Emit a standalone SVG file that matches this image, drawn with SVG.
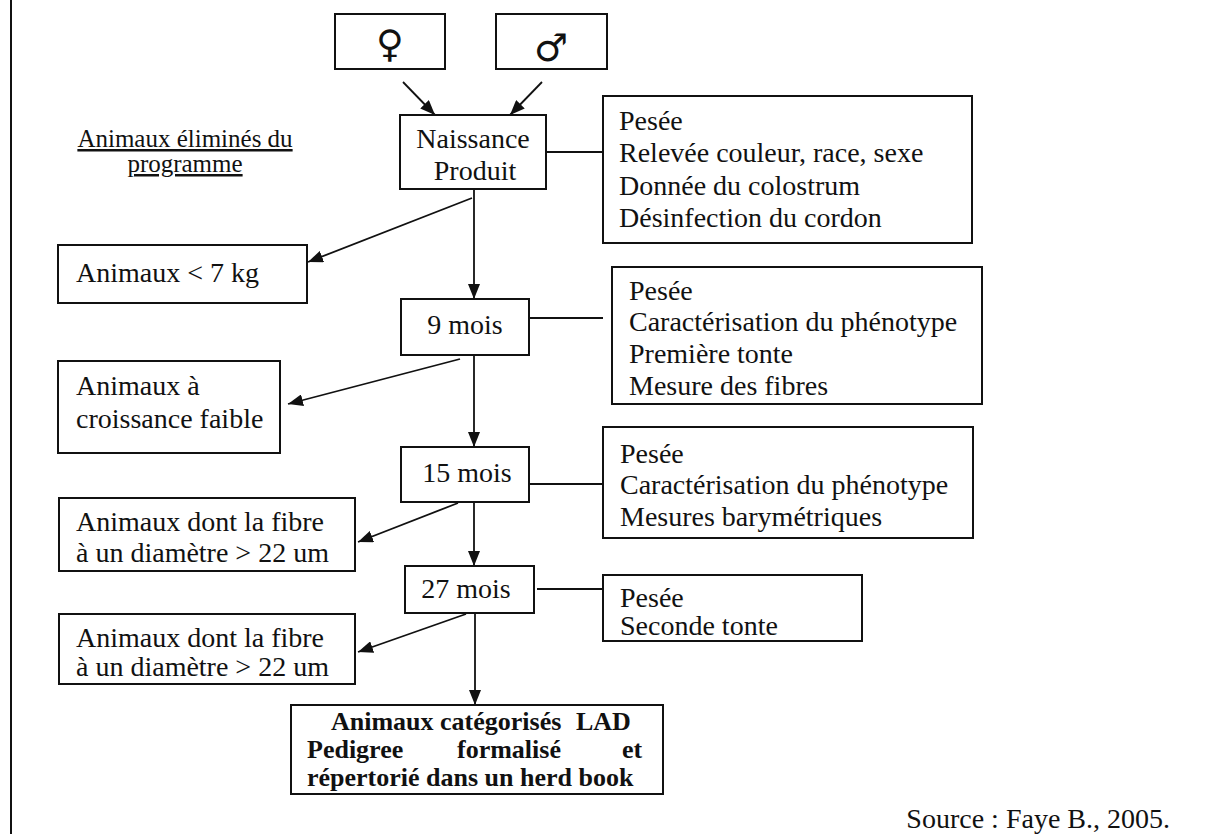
<svg xmlns="http://www.w3.org/2000/svg" width="1228" height="834" viewBox="0 0 1228 834">
<style>
.box{fill:#fff;stroke:#111;stroke-width:2}
.t{font-family:"Liberation Serif","Times New Roman",serif;font-size:28px;fill:#111}
.tc{font-family:"Liberation Serif","Times New Roman",serif;font-size:28px;fill:#111;text-anchor:middle}
.b{font-family:"Liberation Serif","Times New Roman",serif;font-size:26px;font-weight:bold;fill:#111}
.lbl{font-family:"Liberation Serif","Times New Roman",serif;font-size:25px;fill:#111;text-anchor:middle;text-decoration:underline}
.sym{font-family:"DejaVu Sans",sans-serif;font-size:38px;fill:#111;text-anchor:middle}
.c{fill:none;stroke:#111;stroke-width:1.8}
</style>
<defs>
<marker id="ah" markerWidth="16" markerHeight="12" refX="15" refY="6" orient="auto" markerUnits="userSpaceOnUse"><path d="M0,0 L15,6 L0,12 z" fill="#111"/></marker>
</defs>
<rect width="1228" height="834" fill="#fff"/>
<line x1="11" y1="0" x2="11" y2="834" stroke="#111" stroke-width="2"/>

<g id="label-elimines">
<text class="lbl" x="185" y="147">Animaux éliminés du</text>
<text class="lbl" x="185" y="172">programme</text>
</g>

<g id="connectors">
<path class="c" d="M403,82 L435,115" marker-end="url(#ah)"/>
<path class="c" d="M542,82 L510,115" marker-end="url(#ah)"/>
<path class="c" d="M474,189 L474,299" marker-end="url(#ah)"/>
<path class="c" d="M472,198 L308,262" marker-end="url(#ah)"/>
<path class="c" d="M474,355 L474,447" marker-end="url(#ah)"/>
<path class="c" d="M460,359 L288,404" marker-end="url(#ah)"/>
<path class="c" d="M474,502 L474,566" marker-end="url(#ah)"/>
<path class="c" d="M458,503 L358,542" marker-end="url(#ah)"/>
<path class="c" d="M475,613 L475,705" marker-end="url(#ah)"/>
<path class="c" d="M466,614 L358,652" marker-end="url(#ah)"/>
<path class="c" d="M546,152 L602,152"/>
<path class="c" d="M529,318 L603,318"/>
<path class="c" d="M529,484 L603,484"/>
<path class="c" d="M537,589 L612,589"/>
</g>

<g id="female">
<rect class="box" x="335" y="14" width="110" height="55"/>
<text class="sym" x="390" y="57">♀</text>
</g>
<g id="male">
<rect class="box" x="496" y="14" width="111" height="55"/>
<text class="sym" x="551" y="61">♂</text>
</g>

<g id="naissance">
<rect class="box" x="400" y="115" width="146" height="74"/>
<text class="tc" x="473" y="148">Naissance</text>
<text class="tc" x="475" y="180">Produit</text>
</g>

<g id="pesee1">
<rect class="box" x="603" y="96" width="369" height="147"/>
<text class="t" x="619" y="130">Pesée</text>
<text class="t" x="619" y="162">Relevée couleur, race, sexe</text>
<text class="t" x="619" y="195">Donnée du colostrum</text>
<text class="t" x="619" y="227">Désinfection du cordon</text>
</g>

<g id="moins7kg">
<rect class="box" x="58" y="245" width="249" height="58"/>
<text class="t" x="76" y="282">Animaux &lt; 7 kg</text>
</g>

<g id="mois9">
<rect class="box" x="401" y="299" width="128" height="56"/>
<text class="tc" x="465" y="334">9 mois</text>
</g>

<g id="pesee2">
<rect class="box" x="612" y="267" width="370" height="137"/>
<text class="t" x="629" y="300">Pesée</text>
<text class="t" x="629" y="331">Caractérisation du phénotype</text>
<text class="t" x="629" y="363">Première tonte</text>
<text class="t" x="629" y="395">Mesure des fibres</text>
</g>

<g id="croissance">
<rect class="box" x="58" y="361" width="222" height="92"/>
<text class="t" x="76" y="395">Animaux à</text>
<text class="t" x="76" y="428">croissance faible</text>
</g>

<g id="mois15">
<rect class="box" x="401" y="447" width="128" height="55"/>
<text class="tc" x="467" y="482">15 mois</text>
</g>

<g id="pesee3">
<rect class="box" x="603" y="427" width="370" height="111"/>
<text class="t" x="620" y="463">Pesée</text>
<text class="t" x="620" y="494">Caractérisation du phénotype</text>
<text class="t" x="620" y="526">Mesures barymétriques</text>
</g>

<g id="fibre1">
<rect class="box" x="59" y="498" width="296" height="73"/>
<text class="t" x="76" y="531">Animaux dont la fibre</text>
<text class="t" x="76" y="562">à un diamètre &gt; 22 um</text>
</g>

<g id="mois27">
<rect class="box" x="405" y="566" width="129" height="47"/>
<text class="tc" x="466" y="598">27 mois</text>
</g>

<g id="pesee4">
<rect class="box" x="603" y="575" width="259" height="66"/>
<text class="t" x="620" y="607">Pesée</text>
<text class="t" x="620" y="635">Seconde tonte</text>
</g>

<g id="fibre2">
<rect class="box" x="59" y="614" width="296" height="70"/>
<text class="t" x="76" y="647">Animaux dont la fibre</text>
<text class="t" x="76" y="676">à un diamètre &gt; 22 um</text>
</g>

<g id="final">
<rect class="box" x="291" y="705" width="372" height="89"/>
<text class="b"><tspan x="331" y="730">Animaux catégorisés</tspan><tspan x="576" y="730">LAD</tspan><tspan x="307" y="758">Pedigree</tspan><tspan x="457" y="758">formalisé</tspan><tspan x="622" y="758">et</tspan><tspan x="307" y="786">répertorié dans un herd book</tspan></text>
</g>

<g id="source">
<text class="t" x="1170" y="828" text-anchor="end">Source : Faye B., 2005.</text>
</g>
</svg>
